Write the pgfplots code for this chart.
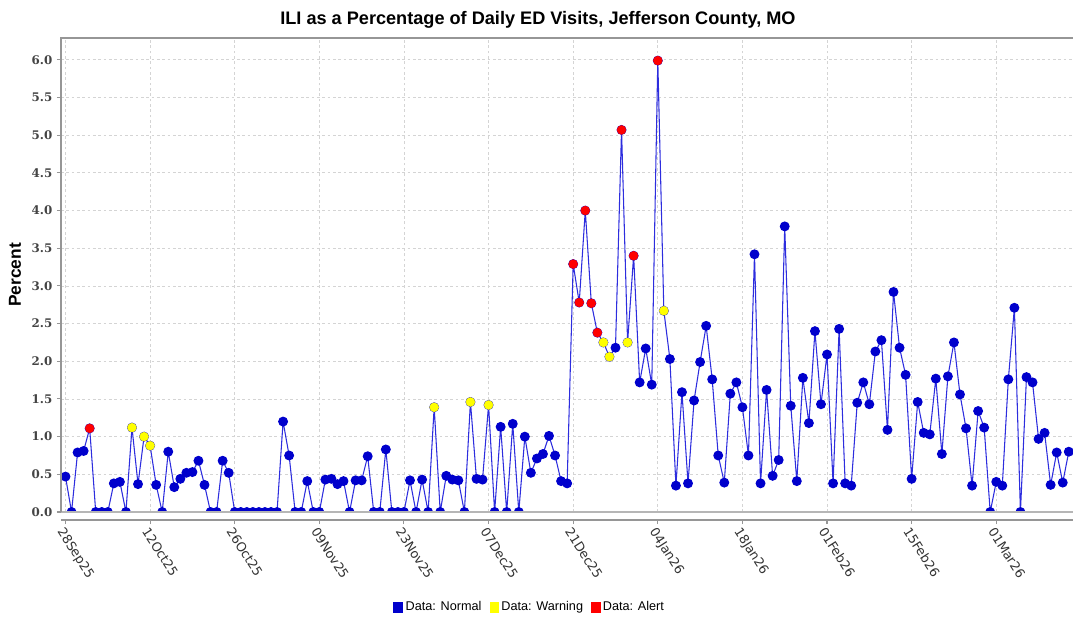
\documentclass[border=0pt]{standalone}
\usepackage{pgfplots}
\usepackage{pgfplotstable}
\pgfplotsset{compat=1.18}
\usepackage{fontspec}
\setmainfont{Liberation Sans}
\newfontfamily\dvs{DejaVu Sans}
\newfontfamily\dvserif{DejaVu Serif}
\definecolor{normalblue}{RGB}{0,0,204}
\definecolor{lineblue}{RGB}{45,45,222}
\definecolor{warnyellow}{RGB}{255,255,0}
\definecolor{alertred}{RGB}{255,0,0}
\definecolor{gridgray}{RGB}{212,212,212}
\definecolor{framegray}{RGB}{150,150,150}
\definecolor{ticktext}{RGB}{68,68,68}

\pgfplotstableread{
d v
0 0.47
1 0
2 0.79
3 0.81
4 1.11
5 0
6 0
7 0
8 0.38
9 0.40
10 0
11 1.12
12 0.37
13 1.00
14 0.88
15 0.36
16 0
17 0.80
18 0.33
19 0.44
20 0.52
21 0.53
22 0.68
23 0.36
24 0
25 0
26 0.68
27 0.52
28 0
29 0
30 0
31 0
32 0
33 0
34 0
35 0
36 1.20
37 0.75
38 0
39 0
40 0.41
41 0
42 0
43 0.43
44 0.44
45 0.37
46 0.41
47 0
48 0.42
49 0.42
50 0.74
51 0
52 0
53 0.83
54 0
55 0
56 0
57 0.42
58 0
59 0.43
60 0
61 1.39
62 0
63 0.48
64 0.43
65 0.42
66 0
67 1.46
68 0.44
69 0.43
70 1.42
71 0
72 1.13
73 0
74 1.17
75 0
76 1.00
77 0.52
78 0.71
79 0.77
80 1.01
81 0.75
82 0.41
83 0.38
84 3.29
85 2.78
86 4.00
87 2.77
88 2.38
89 2.25
90 2.06
91 2.18
92 5.07
93 2.25
94 3.40
95 1.72
96 2.17
97 1.69
98 5.99
99 2.67
100 2.03
101 0.35
102 1.59
103 0.38
104 1.48
105 1.99
106 2.47
107 1.76
108 0.75
109 0.39
110 1.57
111 1.72
112 1.39
113 0.75
114 3.42
115 0.38
116 1.62
117 0.48
118 0.69
119 3.79
120 1.41
121 0.41
122 1.78
123 1.18
124 2.40
125 1.43
126 2.09
127 0.38
128 2.43
129 0.38
130 0.35
131 1.45
132 1.72
133 1.43
134 2.13
135 2.28
136 1.09
137 2.92
138 2.18
139 1.82
140 0.44
141 1.46
142 1.05
143 1.03
144 1.77
145 0.77
146 1.80
147 2.25
148 1.56
149 1.11
150 0.35
151 1.34
152 1.12
153 0
154 0.40
155 0.35
156 1.76
157 2.71
158 0
159 1.79
160 1.72
161 0.97
162 1.05
163 0.36
164 0.79
165 0.39
166 0.80
}\alldata

\pgfplotstableread{
d v
11 1.12
13 1.00
14 0.88
61 1.39
67 1.46
70 1.42
89 2.25
90 2.06
93 2.25
99 2.67
}\warndata

\pgfplotstableread{
d v
4 1.11
84 3.29
85 2.78
86 4.00
87 2.77
88 2.38
92 5.07
94 3.40
98 5.99
}\alertdata

\begin{document}
\begin{tikzpicture}
\begin{axis}[
  name=ax,
  scale only axis,
  width=759pt, height=355.5pt,
  xmin=-0.745, xmax=166.7,
  ymin=0, ymax=6.29,
  axis x line*=bottom,
  axis y line*=left,
  axis x line shift=6pt,
  axis line style={framegray, line width=1pt},
  tick align=outside,
  major tick length=3pt,
  tick style={framegray, line width=0.8pt},
  xtick={0,14,...,154},
  xticklabels={28Sep25,12Oct25,26Oct25,09Nov25,23Nov25,07Dec25,21Dec25,04Jan26,18Jan26,01Feb26,15Feb26,01Mar26},
  xticklabel style={font=\dvs\fontsize{9.6}{11}\selectfont, text=black!80, rotate=-57.5, anchor=north west, inner sep=1pt},
  ytick={0,0.5,...,6},
  /pgf/number format/assume math mode=true,
  yticklabel={\pgfmathprintnumber[fixed,fixed zerofill,precision=1]{\tick}},
  yticklabel style={font=\dvserif\bfseries\fontsize{8.9}{10}\selectfont, text=ticktext},
  grid=major,
  major grid style={gridgray, dash pattern=on 2pt off 2pt, line width=0.6pt},
  clip marker paths=true,
  title={ILI as a Percentage of Daily ED Visits, Jefferson County, MO},
  title style={font=\bfseries\fontsize{13.6}{16}\selectfont, at={(axis description cs:0.4713,1)}, anchor=center, yshift=7.5pt},
  ylabel={Percent},
  every axis y label/.style={at={(axis description cs:0,0.5)}, xshift=-34.5pt, rotate=90, anchor=center, font=\bfseries\fontsize{13}{15}\selectfont},
  legend columns=3,
  legend style={at={(axis description cs:0.4634,0)}, anchor=center, yshift=-71.5pt, draw=none, fill=none, font=\fontsize{9.5}{11}\selectfont, /tikz/every even column/.append style={column sep=4pt}},
  legend cell align=left,
  after end axis/.code={
    \draw[framegray!70, line width=0.8pt] (rel axis cs:0,0) -- (rel axis cs:1,0);
    \draw[framegray, line width=1.3pt] (rel axis cs:0,0) -- (rel axis cs:0,1) -- (rel axis cs:1,1);
  },
]
\addplot[lineblue, line width=0.8pt, mark=*, mark size=3.3pt, mark options={fill=normalblue, draw=normalblue, solid},
  legend image code/.code={\fill[normalblue] (0pt,-3.5pt) rectangle (6.5pt,3.5pt);}]
  table[x=d, y=v] {\alldata};
\addlegendentry{Data: Normal}
\addplot[only marks, mark=*, mark size=3.3pt, mark options={fill=warnyellow, draw=warnyellow},
  legend image code/.code={\fill[warnyellow] (0pt,-3.5pt) rectangle (6.5pt,3.5pt);}]
  table[x=d, y=v] {\warndata};
\addlegendentry{Data: Warning}
\addplot[only marks, mark=*, mark size=3.3pt, mark options={fill=alertred, draw=alertred},
  legend image code/.code={\fill[alertred] (0pt,-3.5pt) rectangle (6.5pt,3.5pt);}]
  table[x=d, y=v] {\alertdata};
\addlegendentry{Data: Alert}
\end{axis}
\pgfresetboundingbox
\path[use as bounding box] ([xshift=-45.75pt, yshift=-79.5pt]ax.south west) rectangle ([yshift=28.5pt]ax.north east);
\end{tikzpicture}
\end{document}
